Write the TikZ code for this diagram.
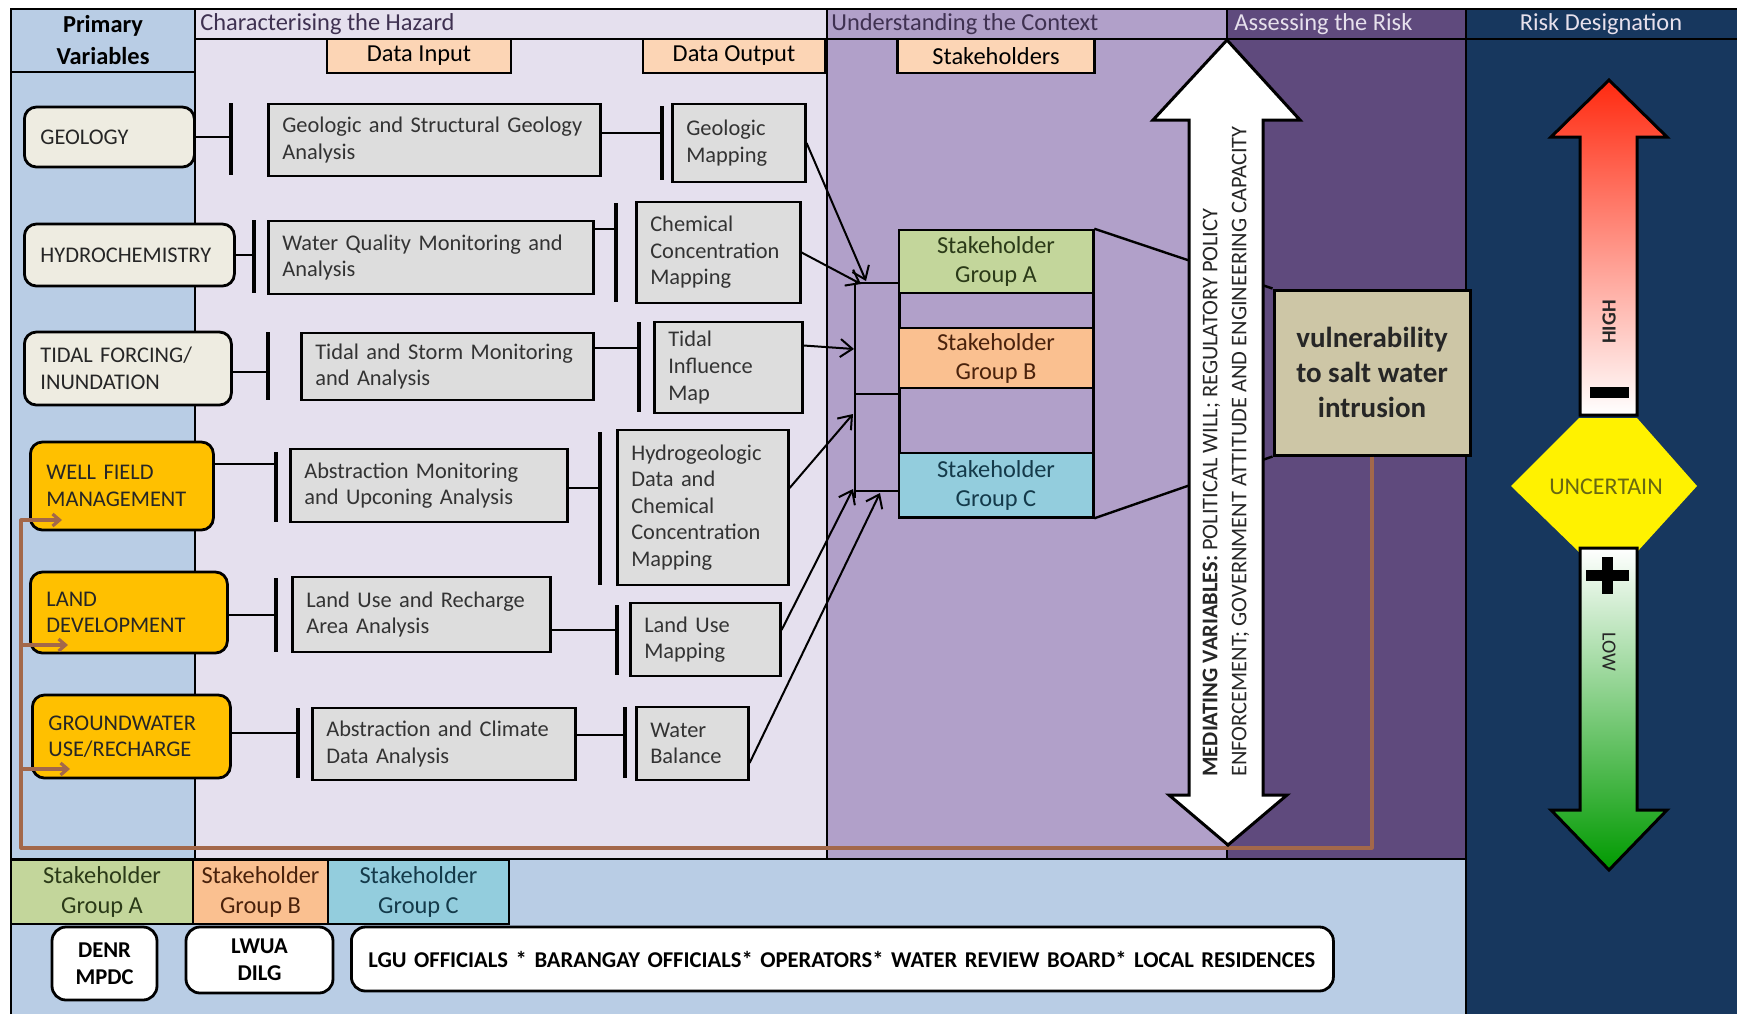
\documentclass[tikz,border=0pt]{standalone}
\usepackage{fontspec}
\setmainfont{Carlito}
\usetikzlibrary{arrows.meta}

\definecolor{pvblue}{HTML}{B9CDE5}
\definecolor{hazard}{HTML}{E5E0EE}
\definecolor{context}{HTML}{B1A0C9}
\definecolor{assess}{HTML}{5F4A7D}
\definecolor{riskbg}{HTML}{17375E}
\definecolor{pvfill}{HTML}{EEECE1}
\definecolor{pvorange}{HTML}{FFC000}
\definecolor{boxgray}{HTML}{DDDDDD}
\definecolor{peach}{HTML}{FCD5B5}
\definecolor{grpA}{HTML}{C3D69B}
\definecolor{grpB}{HTML}{FAC090}
\definecolor{grpC}{HTML}{93CDDD}
\definecolor{grpAtext}{HTML}{2B3A18}
\definecolor{grpBtext}{HTML}{4A220C}
\definecolor{grpCtext}{HTML}{143A4A}
\definecolor{vulnfill}{HTML}{CDC6A6}
\definecolor{hdrtext}{HTML}{3F3151}
\definecolor{hdrlight}{HTML}{E6E0EC}
\definecolor{fbbrown}{HTML}{A3684A}
\definecolor{riskred}{HTML}{FF2A10}
\definecolor{riskgreen}{HTML}{009A00}
\definecolor{uncolor}{HTML}{686812}

\begin{document}
\begin{tikzpicture}[x=0.5pt, y=-0.5pt,
  >={Straight Barb[length=6pt,width=9pt]},
  font=\fontsize{11.2}{13.3}\selectfont,
  hdr/.style={font=\fontsize{12.2}{15}\selectfont},
  pvar/.style={draw, line width=1.4pt, rounded corners=6pt, fill=pvfill, text=black!85,
    anchor=west, align=left, inner xsep=8pt},
  abox/.style={draw, line width=1.3pt, fill=boxgray, text=black!80, anchor=west,
    align=left, inner xsep=7pt},
  lbl/.style={draw, line width=1.2pt, fill=peach, minimum height=17pt, inner sep=0pt, hdr},
  grp/.style={draw, line width=1.3pt, minimum width=97pt, align=center, inner sep=0pt,
    font=\fontsize{12.2}{14.5}\selectfont},
  lgd/.style={draw, line width=1pt, minimum height=32pt, align=center, inner sep=0pt,
    font=\fontsize{12.2}{15}\selectfont},
  wbox/.style={draw, line width=1.4pt, rounded corners=7pt, fill=white, align=center,
    font=\bfseries\fontsize{11.3}{13.5}\selectfont},
  tbar/.style={line width=1.6pt},
  link/.style={line width=1.2pt},
  feed/.style={line width=1pt, ->},
  panel/.style={line width=1pt},
  fback/.style={line width=1.6pt, draw=fbbrown, line join=round},
  fbtip/.style={fback, -{Straight Barb[length=3.5pt,width=6pt]}},
]
  \useasboundingbox (0,0) rectangle (1737,1014);

  % background panels
  \fill[pvblue] (11,9) rectangle (195,859);
  \fill[hazard] (195,9) rectangle (827,859);
  \fill[context] (827,9) rectangle (1227,859);
  \fill[assess] (1227,9) rectangle (1466,859);
  \fill[riskbg] (1466,9) rectangle (1737,1014);
  \fill[pvblue] (11,859) rectangle (1466,1014);
  \draw[panel] (11,1014) -- (11,9) -- (1737,9);
  \draw[panel] (195,39) -- (1737,39);
  \draw[panel] (11,72) -- (195,72);
  \draw[panel] (195,9) -- (195,859);
  \draw[panel] (827,9) -- (827,859);
  \draw[panel] (1227,9) -- (1227,859);
  \draw[panel] (1466,9) -- (1466,1014);
  \draw[panel] (11,859) -- (1466,859);

  % headers
  \node[align=center, font=\bfseries\fontsize{12.2}{16}\selectfont] (pvhead) at (103,40) {Primary\\Variables};
  \node[hdr, anchor=west, text=hdrtext, inner sep=0pt] (hzhead) at (200,24) {Characterising the Hazard};
  \node[hdr, anchor=west, text=hdrtext, inner sep=0pt] (cxhead) at (831,24) {Understanding the Context};
  \node[hdr, anchor=west, text=hdrlight, inner sep=0pt] (ashead) at (1234,24) {Assessing the Risk};
  \node[hdr, text=hdrlight, inner sep=0pt] (rdhead) at (1601,24) {Risk Designation};
  \node[lbl, minimum width=92pt] (din) at (419,56) {Data Input};
  \node[lbl, minimum width=91pt] (dout) at (734,56) {Data Output};
  \node[lbl, minimum width=98.5pt] (shold) at (996,56) {Stakeholders};

  % primary variables
  \node[pvar, text width=69pt, minimum height=30pt] (geo) at (23,137) {GEOLOGY};
  \node[pvar, text width=89pt, minimum height=31pt] (hydro) at (23,255) {HYDROCHEMISTRY};
  \node[pvar, text width=87.5pt, minimum height=36.5pt] (tidal) at (23,368.5) {TIDAL FORCING/\\INUNDATION};
  \node[pvar, fill=pvorange, text width=75.5pt, minimum height=44pt] (well) at (29,486) {WELL FIELD\\MANAGEMENT};
  \node[pvar, fill=pvorange, text width=82.5pt, minimum height=40.5pt] (land) at (29,612.5) {LAND\\DEVELOPMENT};
  \node[pvar, fill=pvorange, text width=83pt, minimum height=41.5pt] (gw) at (31,736.5) {GROUNDWATER\\USE/RECHARGE};

  % data input
  \node[abox, text width=152pt, minimum height=36pt] (a1) at (267,140) {Geologic and Structural Geology\\Analysis};
  \node[abox, text width=148.5pt, minimum height=36.5pt] (a2) at (267,257.5) {Water Quality Monitoring and\\Analysis};
  \node[abox, text width=132pt, minimum height=33.5pt] (a3) at (300,366.5) {Tidal and Storm Monitoring\\and Analysis};
  \node[abox, text width=124.5pt, minimum height=36.5pt] (a4) at (289,485.5) {Abstraction Monitoring\\and Upconing Analysis};
  \node[abox, text width=115pt, minimum height=37.5pt] (a5) at (291,614.5) {Land Use and Recharge\\Area Analysis};
  \node[abox, text width=117.5pt, minimum height=36pt] (a6) at (311,744) {Abstraction and Climate\\Data Analysis};

  % data output
  \node[abox, text width=52.5pt, minimum height=39pt] (o1) at (671,143) {Geologic\\Mapping};
  \node[abox, text width=68pt, minimum height=50.5pt] (o2) at (635,252.5) {Chemical\\Concentration\\Mapping};
  \node[abox, text width=60pt, minimum height=45.5pt] (o3) at (653,367.5) {Tidal\\Influence\\Map};
  \node[abox, text width=71.5pt, minimum height=77.5pt] (o4) at (616,507.5) {Hydrogeologic\\Data and\\Chemical\\Concentration\\Mapping};
  \node[abox, text width=61pt, minimum height=36.5pt] (o5) at (629,639.5) {Land Use\\Mapping};
  \node[abox, text width=42pt, minimum height=36.5pt] (o6) at (635,743.5) {Water\\Balance};

  % bars
  \draw[tbar] (231,103) -- (231,175);
  \draw[tbar] (254,220) -- (254,293);
  \draw[tbar] (268,332) -- (268,400);
  \draw[tbar] (276,452) -- (276,522);
  \draw[tbar] (276,578) -- (276,652);
  \draw[tbar] (298,708) -- (298,778);
  \draw[tbar] (662,106) -- (662,180);
  \draw[tbar] (616,203) -- (616,302);
  \draw[tbar] (639,322) -- (639,412);
  \draw[tbar] (600,432) -- (600,585);
  \draw[tbar] (617,605) -- (617,675);
  \draw[tbar] (625,707) -- (625,778);
  \coordinate (t1) at (231,137);
  \coordinate (t2) at (254,255);
  \coordinate (t3) at (268,372);
  \coordinate (t4) at (276,464);
  \coordinate (t5) at (276,615);
  \coordinate (t6) at (298,733);
  \coordinate (u1) at (662,133);
  \coordinate (u2) at (616,229);
  \coordinate (u3) at (639,348);
  \coordinate (u4) at (600,488);
  \coordinate (u5) at (617,630);
  \coordinate (u6) at (625,735);
  \draw[link] (geo.east |- t1) -- (t1);
  \draw[link] (hydro.east |- t2) -- (t2);
  \draw[link] (tidal.east |- t3) -- (t3);
  \draw[link] (well.east |- t4) -- (t4);
  \draw[link] (land.east |- t5) -- (t5);
  \draw[link] (gw.east |- t6) -- (t6);
  \draw[link] (a1.east |- u1) -- (u1);
  \draw[link] (a2.east |- u2) -- (u2);
  \draw[link] (a3.east |- u3) -- (u3);
  \draw[link] (a4.east |- u4) -- (u4);
  \draw[link] (a5.east |- u5) -- (u5);
  \draw[link] (a6.east |- u6) -- (u6);

  % stakeholders
  \node[draw, line width=1.5pt, minimum width=97pt, minimum height=143.5pt] (stcol) at (996,373.5) {};
  \node[grp, fill=grpA, text=grpAtext, minimum height=31.5pt] (stA) at (996,261.5) {Stakeholder\\Group A};
  \node[grp, fill=grpB, text=grpBtext, minimum height=30pt] (stB) at (996,358) {Stakeholder\\Group B};
  \node[grp, fill=grpC, text=grpCtext, minimum height=32pt] (stC) at (996,485) {Stakeholder\\Group C};
  \coordinate (bA) at (855,283);
  \coordinate (bB) at (855,394);
  \coordinate (bC) at (855,491);
  \coordinate (bend) at (855,498);
  \coordinate (g1) at (866,281);
  \coordinate (g2) at (861,284);
  \coordinate (g3) at (854,349);
  \coordinate (g4) at (853,414);
  \coordinate (g5) at (853,489);
  \coordinate (g6) at (880,493);
  \draw[line width=1pt] (bA) -- (bend);
  \draw[line width=1pt] (bA) -- (bA -| stcol.west);
  \draw[line width=1pt] (bB) -- (bB -| stcol.west);
  \draw[line width=1pt] (bC) -- (bC -| stcol.west);
  \draw[feed] (o1.east) -- (g1);
  \draw[feed] (o2.east) -- (g2);
  \draw[feed] ([yshift=11pt]o3.east) -- (g3);
  \draw[feed] ([yshift=9.75pt]o4.east) -- (g4);
  \draw[feed] ([yshift=4.75pt]o5.east) -- (g5);
  \draw[feed] ([yshift=-9.75pt]o6.east) -- (g6);

  % bottom legend
  \node[lgd, fill=grpA, text=grpAtext, minimum width=91pt] (lgA) at (102,892) {Stakeholder\\Group A};
  \node[lgd, fill=grpB, text=grpBtext, minimum width=67.5pt] (lgB) at (260.5,892) {Stakeholder\\Group B};
  \node[lgd, fill=grpC, text=grpCtext, minimum width=90.5pt] (lgC) at (418.5,892) {Stakeholder\\Group C};
  \node[wbox, minimum width=52.5pt, minimum height=36.5pt] (denr) at (104.5,963.5) {DENR\\MPDC};
  \node[wbox, minimum width=73.5pt, minimum height=33pt] (lwua) at (259.5,960) {LWUA\\DILG};
  \node[wbox, anchor=west, align=left, inner xsep=8.5pt, text width=474pt, minimum height=32pt] (lgu) at (350,959)
    {LGU OFFICIALS * BARANGAY OFFICIALS* OPERATORS* WATER REVIEW BOARD* LOCAL RESIDENCES};

  % vulnerability and mediating variables
  \node[draw, fill=vulnfill, line width=1.5pt, minimum width=98pt, minimum height=82.5pt, align=center,
    text=black!85, font=\bfseries\fontsize{14.5}{17.5}\selectfont] (vuln) at (1372,372.5)
    {vulnerability\\to salt water\\intrusion};
  \coordinate (fb1) at (1372,848);
  \coordinate (fb2) at (21,848);
  \coordinate (fw) at (21,520);
  \coordinate (fl) at (21,645);
  \coordinate (fg) at (21,769);
  \coordinate (fwe) at (62,520);
  \coordinate (fle) at (68,645);
  \coordinate (fge) at (70,769);
  \draw[fbtip] (vuln.south) -- (fb1) -- (fb2) -- (fw) -- (fwe);
  \draw[fbtip] (fl) -- (fle);
  \draw[fbtip] (fg) -- (fge);
  \draw[link] (stA.north east) -- (vuln.north west);
  \draw[link] (stC.south east) -- (vuln.south west);
  \draw[line width=1.5pt, fill=white] (1227,40) -- (1300,120) -- (1263,120) -- (1263,795) -- (1287,795)
    -- (1228,845) -- (1169,795) -- (1189,795) -- (1189,120) -- (1153,120) -- cycle;
  \node[rotate=90, anchor=west, align=left, inner sep=0pt, text=black!85,
    font=\fontsize{11.2}{14.5}\selectfont] (med) at (1226,777)
    {\textbf{MEDIATING VARIABLES:} POLITICAL WILL; REGULATORY POLICY\\ENFORCEMENT; GOVERNMENT ATTITUDE AND ENGINEERING CAPACITY};

  % risk designation
  \fill[yellow] (1579,418) -- (1637,418) -- (1697,486) -- (1637,552) -- (1579,552) -- (1511,486) -- cycle;
  \draw[line width=1.5pt, top color=riskred, bottom color=white] (1609,80) -- (1667,137) -- (1637,137)
    -- (1637,415) -- (1580,415) -- (1580,137) -- (1551,137) -- cycle;
  \draw[line width=1.5pt, top color=white, bottom color=riskgreen] (1580,548) -- (1637,548) -- (1637,810)
    -- (1667,810) -- (1609,870) -- (1551,810) -- (1580,810) -- cycle;
  \fill (1590,387) rectangle (1629,398);
  \fill (1586,570) rectangle (1629,581);
  \fill (1602,557) rectangle (1613,594);
  \node[rotate=90, text=black!85, font=\bfseries\fontsize{10}{12}\selectfont] (high) at (1609,322) {HIGH};
  \node[rotate=-90, text=black!85, font=\fontsize{10}{12}\selectfont] (low) at (1609,652) {LOW};
  \node[text=uncolor, font=\fontsize{12}{14}\selectfont] (unc) at (1606,487) {UNCERTAIN};
\end{tikzpicture}
\end{document}
